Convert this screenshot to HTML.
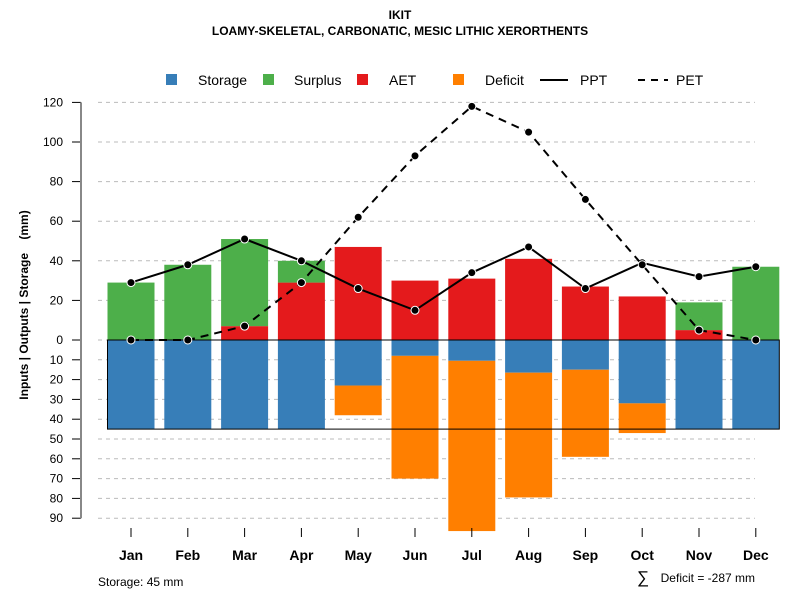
<!DOCTYPE html>
<html><head><meta charset="utf-8"><style>
body{margin:0;background:#fff;}
svg{font-family:"Liberation Sans",Arial,sans-serif;}
</style></head><body>
<svg id="chart" width="800" height="600" xmlns="http://www.w3.org/2000/svg">
<text x="400" y="19" text-anchor="middle" font-size="12" font-weight="bold">IKIT</text>
<text x="400" y="35" text-anchor="middle" font-size="12" font-weight="bold">LOAMY-SKELETAL, CARBONATIC, MESIC LITHIC XERORTHENTS</text>
<g font-size="14">
<g><rect x="166" y="74" width="11" height="11" fill="#377EB8"/><text x="198" y="85">Storage</text></g>
<g><rect x="263" y="74" width="11" height="11" fill="#4DAF4A"/><text x="294" y="85">Surplus</text></g>
<g><rect x="357" y="74" width="11" height="11" fill="#E41A1C"/><text x="389" y="85">AET</text></g>
<g><rect x="453" y="74" width="11" height="11" fill="#FF7F00"/><text x="485" y="85">Deficit</text></g>
<g><line x1="540" y1="80" x2="568" y2="80" stroke="#000" stroke-width="2"/><text x="580" y="85">PPT</text></g>
<g><line x1="638" y1="80" x2="668" y2="80" stroke="#000" stroke-width="2" stroke-dasharray="7,6"/><text x="676" y="85">PET</text></g>
</g>
<text transform="translate(28,305) rotate(-90)" text-anchor="middle" font-size="12" font-weight="bold" style="white-space:pre">Inputs | Outputs | Storage    (mm)</text>
<text x="98" y="586" font-size="12">Storage: 45 mm</text>
<g><text x="637" y="583" font-size="17">∑</text><text x="755" y="582" text-anchor="end" font-size="12">Deficit = -287 mm</text></g>
<g id="grid"></g><g id="bars"></g><g id="axes"></g><g id="lines"></g>
</svg>
<script>
const months=["Jan","Feb","Mar","Apr","May","Jun","Jul","Aug","Sep","Oct","Nov","Dec"];
const ppt=[29,38,51,40,26,15,34,47,26,39,32,37];
const pet=[0,0,7,29,62,93,118,105,71,38,5,0];
const aet=[0,0,7,29,47,30,31,41,27,22,5,0];
const surplus=[29,38,44,11,0,0,0,0,0,0,14,37];
const storage=[45,45,45,45,23,8,10.5,16.5,15,32,45,45];
const deficit=[0,0,0,0,15,62,86,63,44,15,0,0];
const upTicks=[0,20,40,60,80,100,120];
const downTicks=[10,20,30,40,50,60,70,80,90];
const capacity=45;
const NS="http://www.w3.org/2000/svg";
const X=i=>131+i*56.8;
const Y=v=>340-v*1.98;
const BW=47;
function mk(tag,attrs,parent){const e=document.createElementNS(NS,tag);for(const k in attrs)e.setAttribute(k,attrs[k]);document.getElementById(parent).appendChild(e);return e;}
upTicks.concat(downTicks.map(v=>-v)).forEach(v=>{
 const y=Y(v);
 const g=mk('line',{x1:98,x2:755,y1:y,y2:y,stroke:'#bbb','stroke-dasharray':'4,4'},'grid');
 
 
 const t=mk('line',{x1:72,x2:81,y1:y,y2:y,stroke:'#000'},'axes');
 
 
 const l=mk('text',{x:63,y:y+4,'text-anchor':'end','font-size':12},'axes');
 l.textContent=Math.abs(v);
 
 
});
const ax=mk('line',{x1:81,x2:81,y1:Y(120),y2:Y(-90),stroke:'#888','stroke-width':2},'axes');


months.forEach((m,i)=>{
 const x=X(i);
 const tk=mk('line',{x1:x,x2:x,y1:528,y2:537,stroke:'#000'},'axes');
 
 
 const t=mk('text',{x:x,y:560,'text-anchor':'middle','font-size':14,'font-weight':'bold'},'axes');
 t.textContent=m;
 
 
 const x0=x-BW/2;
 function bar(v0,v1,c,name){if(v1===v0)return;const y0=Y(Math.max(v0,v1)),y1=Y(Math.min(v0,v1));
  const r=mk('rect',{x:x0,y:y0,width:BW,height:y1-y0,fill:c},'bars');
  
  }
 bar(0,aet[i],'#E41A1C','bar-aet-'+m.toLowerCase());
 bar(aet[i],aet[i]+surplus[i],'#4DAF4A','bar-surplus-'+m.toLowerCase());
 bar(0,-storage[i],'#377EB8','bar-storage-'+m.toLowerCase());
 bar(-storage[i],-storage[i]-deficit[i],'#FF7F00','bar-deficit-'+m.toLowerCase());
});
const box=mk('rect',{x:X(0)-BW/2,y:Y(0),width:X(11)+BW/2-(X(0)-BW/2),height:Y(-capacity)-Y(0),fill:'none',stroke:'#000','stroke-width':1},'bars');


function series(arr,dash,name){
 const p=mk('polyline',{points:arr.map((v,i)=>X(i)+','+Y(v)).join(' '),fill:'none',stroke:'#000','stroke-width':2,'stroke-dasharray':dash},'lines');
 
 
 arr.forEach((v,i)=>{const c=mk('circle',{cx:X(i),cy:Y(v),r:4,fill:'#000',stroke:'#fff','stroke-width':1},'lines');
  
  });
}
series(ppt,'none','ppt');
series(pet,'8,6','pet');
</script>
</body></html>
